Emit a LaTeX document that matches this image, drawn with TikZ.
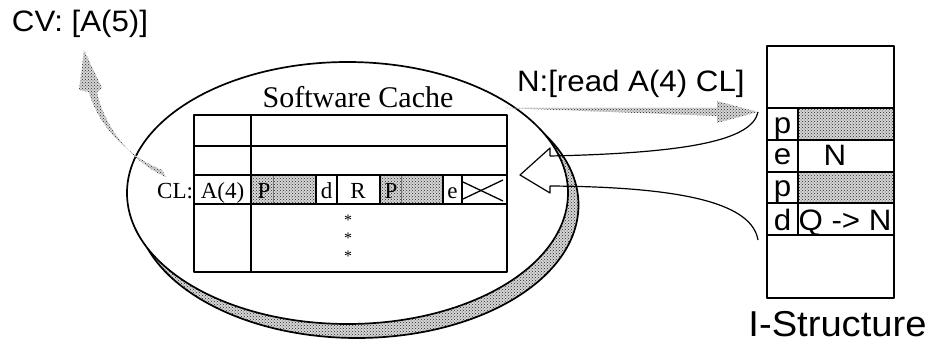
\documentclass[tikz,border=0pt]{standalone}
\usepackage{fontspec}
\setmainfont{Liberation Serif}
\newfontfamily\helv[FakeStretch=1.06]{Liberation Sans}
\usetikzlibrary{patterns}
\begin{document}
\begin{tikzpicture}[x=1pt,y=-1pt,line join=round,
  stipple/.style={preaction={fill=gray!32},preaction={pattern=crosshatch dots,pattern color=black!85}},
  txt/.style={inner sep=0pt,outer sep=0pt},
  sans/.style={txt,font=\helv\fontsize{29.5}{34}\selectfont},
  serif/.style={txt,font=\fontsize{23}{26}\selectfont},
  rule/.style={line width=1.3pt},
  heavy/.style={line width=2.2pt},
  oval/.style={line width=1.7pt},
  link/.style={line width=1.2pt}]
\useasboundingbox (0,0) rectangle (931,342);

% ---- software cache: shadowed oval ----
\draw[oval,stipple] (357,205) ellipse [x radius=221.5, y radius=133];
\draw[oval,fill=white] (347.5,193) ellipse [x radius=220.5, y radius=131];
\node[txt,font=\fontsize{30}{36}\selectfont,anchor=base] (title) at (358,108) {Software Cache};

% cache table: shaded slots of the CL line
\path[stipple] (252,175) rectangle (316,204);
\path[stipple] (380,175) rectangle (443,204);
% frame and rows
\draw[rule] (194,115) rectangle (507,272);
\draw[rule] (194,146) -- (507,146);
\draw[line width=1.6pt] (251,115) -- (251,272);
\draw[heavy] (194,175) rectangle (507,204);
\foreach \sx in {316,380,443} \draw[heavy] (\sx,175) -- (\sx,204);
\foreach \sx in {337,462} \draw[rule] (\sx,175) -- (\sx,204);
\foreach \sx in {273,401} \draw[line width=0.8pt,black!55] (\sx,176) -- (\sx,203);
% empty entry
\draw[rule] (463,182) -- (503,201);
\draw[rule] (463,199) -- (503,180);
% CL line contents
\node[serif,anchor=base east] (cl) at (193,198) {CL:};
\node[serif,anchor=base] (tag) at (222.5,198) {A(4)};
\node[serif,anchor=base] (s1) at (264,198) {P};
\node[serif,anchor=base] (s2) at (326.5,198) {d};
\node[serif,anchor=base] (s3) at (358,198) {R};
\node[serif,anchor=base] (s4) at (391,198) {P};
\node[serif,anchor=base] (s5) at (452.5,198) {e};
% continuation marks
\foreach \sy/\nm in {225/da,243/db,261/dc}
  \node[txt,font=\fontsize{16}{16}\selectfont,anchor=base] (\nm) at (348,\sy) {*};

% ---- I-structure ----
\path[stipple] (798,108) rectangle (894,140);
\path[stipple] (798,172) rectangle (894,203);
\draw[rule] (767,46) rectangle (894,298);
\foreach \ry in {108,140,172,203,235} \draw[rule] (767,\ry) -- (894,\ry);
\draw[rule] (798,108) -- (798,235);
\node[sans,anchor=base] (f1) at (782.5,133) {p};
\node[sans,anchor=base] (f2) at (782.5,164) {e};
\node[sans,anchor=base] (f3) at (782.5,196) {p};
\node[sans,anchor=base] (f4) at (782.5,230) {d};
\node[sans,anchor=base] (v2) at (835,165) {N};
\node[sans,anchor=base] (v4) at (845,230) {Q -> N};
\node[txt,font=\helv\fontsize{36}{40}\selectfont,anchor=base,text depth=0pt] (istr) at (837.5,336) {I-Structure};

% ---- messages ----
\node[sans,anchor=base west] (cv) at (12,32) {CV: [A(5)]};
\node[sans,anchor=base west] (req) at (517,92) {N:[read A(4) CL]};

\coordinate (reqtail) at (505,112);
\coordinate (reqtip) at (758,112);
\coordinate (lowrow) at (758,240);
\coordinate (cvtip) at (84,50);

% request sent to the I-structure
\path[stipple] (reqtail) ++(0,-4) -- (717,108) -- (717,101) -- (reqtip) -- (717,123) -- (717,116) -- ([yshift=4pt]reqtail) -- cycle;

% value forwarded from the CL line
\path[stipple] (162,170) .. controls (127,156) and (97,124) .. (89,92) -- (79,90) -- (cvtip) -- (102,88) -- (97,92)
  .. controls (104,127) and (133,163) .. (166,177) -- cycle;

% reply funnelled back into the cache line
\draw[link] (reqtip) .. controls (752,140) and (690,153) .. (550,156) -- (550,148) -- (520,175)
  -- (550,193) -- (550,186) .. controls (690,187) and (752,205) .. (lowrow);
\end{tikzpicture}
\end{document}
